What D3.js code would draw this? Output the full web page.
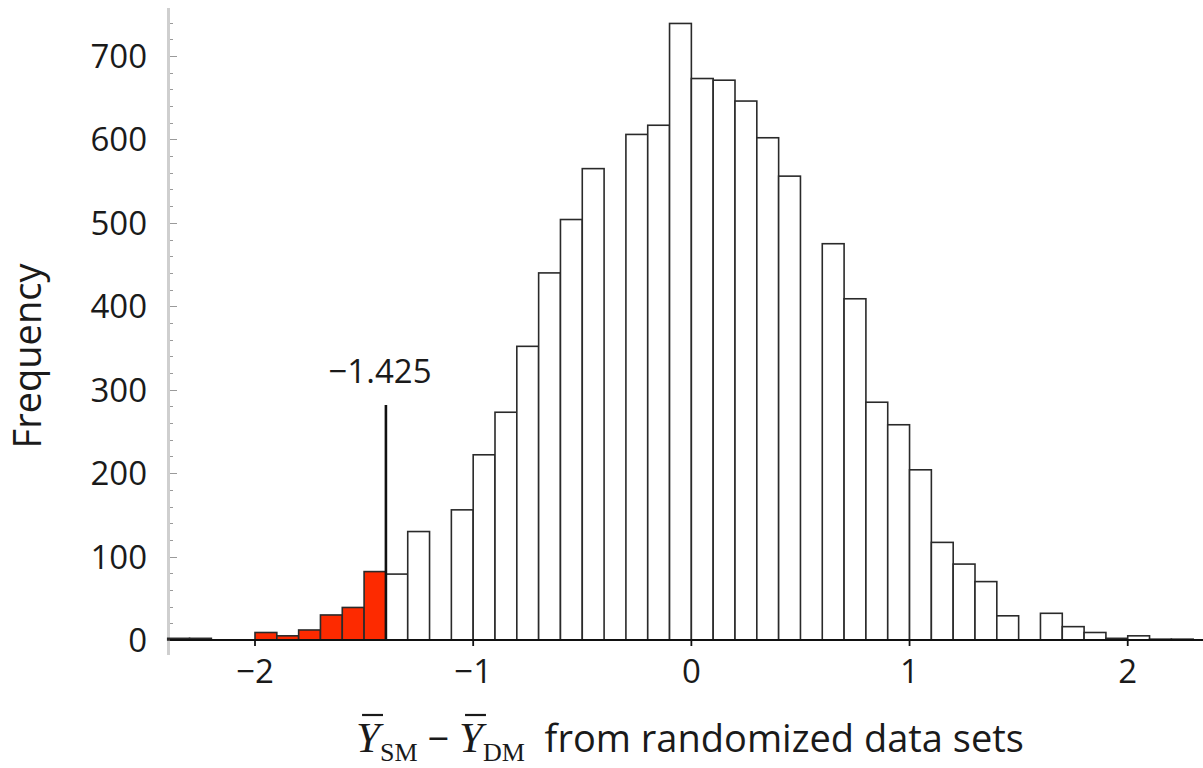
<!DOCTYPE html>
<html>
<head>
<meta charset="utf-8">
<script src="https://cdn.jsdelivr.net/npm/d3@7"></script>
<style>
  html, body { margin: 0; padding: 0; background: #fff; }
  svg { display: block; }
</style>
</head>
<body>
<svg id="chart" width="1203" height="768"></svg>
<script>
// ---- data ----
const binStarts = [-2.4,-2.3,-2.2,-2.1,-2.0,-1.9,-1.8,-1.7,-1.6,-1.5,-1.4,-1.3,-1.2,-1.1,-1.0,-0.9,-0.8,-0.7,-0.6,-0.5,-0.4,-0.3,-0.2,-0.1,0.0,0.1,0.2,0.3,0.4,0.5,0.6,0.7,0.8,0.9,1.0,1.1,1.2,1.3,1.4,1.5,1.6,1.7,1.8,1.9,2.0,2.1,2.2];
const frequencies = [2,2,0,0,9,5,12,30,39,82,79,130,0,156,222,273,352,440,504,565,0,606,617,739,673,671,646,602,556,0,475,409,285,258,204,117,91,70,29,0,32,16,9,2,5,1,1];
const binWidth = 0.1;
const observedValue = -1.425;
const observedLabel = "\u22121.425";
const xTickValues = [-2,-1,0,1,2];
const yTickValues = [0,100,200,300,400,500,600,700];
const yMinorStep = 20;
const yTitle = "Frequency";
const xTitleTail = "from randomized data sets";

// ---- layout ----
const svg = d3.select("#chart");
const FONT = "'Open Sans', 'Noto Sans', sans-serif";
const SERIF = "'Liberation Serif', 'DejaVu Serif', serif";

const x = d3.scaleLinear().domain([-2.385, 2.345]).range([171, 1203]);
const y = d3.scaleLinear().domain([0, 700]).range([640, 56]);

const bins = binStarts.map((s, i) => ({x0: s, x1: +(s + binWidth).toFixed(2), n: frequencies[i]}));
// the bin containing the observed value and all lower bins are highlighted
const cutEdge = bins.find(b => observedValue >= b.x0 && observedValue < b.x1).x1;

// y axis (light gray with minor ticks inside)
const yTop = y.invert(8);
svg.append("line")
  .attr("x1", 168.5).attr("x2", 168.5)
  .attr("y1", y(yTop)).attr("y2", 655)
  .attr("stroke", "#cfcfcf").attr("stroke-width", 3);
const minorVals = d3.range(0, yTop, yMinorStep);
svg.append("g").selectAll("line").data(minorVals).join("line")
  .attr("x1", 170).attr("x2", d => (d % 100 === 0 ? 177 : 173))
  .attr("y1", d => Math.round(y(d)) + 0.5).attr("y2", d => Math.round(y(d)) + 0.5)
  .attr("stroke", "#9a9a9a").attr("stroke-width", 1);
svg.append("g").selectAll("text").data(yTickValues).join("text")
  .attr("x", 147).attr("y", d => y(d) + 12)
  .attr("text-anchor", "end")
  .attr("font-family", FONT).attr("font-size", 33).attr("fill", "#1a1a1a")
  .text(d => d3.format("d")(d));

// bars
svg.append("g").selectAll("rect").data(bins.filter(b => b.n > 0)).join("rect")
  .attr("x", d => x(d.x0))
  .attr("width", d => x(d.x1) - x(d.x0))
  .attr("y", d => y(d.n))
  .attr("height", d => y(0) - y(d.n))
  .attr("fill", d => (d.x1 <= cutEdge + 1e-9 ? "#fd2a00" : "#ffffff"))
  .attr("stroke", "#2a2a2a").attr("stroke-width", 1.6);

// x axis
svg.append("line")
  .attr("x1", 170).attr("x2", 1203)
  .attr("y1", y(0)).attr("y2", y(0))
  .attr("stroke", "#111").attr("stroke-width", 1.8);
svg.append("g").selectAll("line").data(xTickValues).join("line")
  .attr("x1", d => x(d)).attr("x2", d => x(d))
  .attr("y1", y(0)).attr("y2", y(0) + 6)
  .attr("stroke", "#111").attr("stroke-width", 1.8);
svg.append("g").selectAll("text").data(xTickValues).join("text")
  .attr("x", d => x(d)).attr("y", 683)
  .attr("text-anchor", "middle")
  .attr("font-family", FONT).attr("font-size", 33).attr("fill", "#1a1a1a")
  .text(d => (d < 0 ? "\u2212" + Math.abs(d) : String(d)));

// observed-value marker
svg.append("line")
  .attr("x1", x(cutEdge)).attr("x2", x(cutEdge))
  .attr("y1", 405).attr("y2", y(0))
  .attr("stroke", "#111").attr("stroke-width", 2.6);
svg.append("text")
  .attr("x", 380).attr("y", 383)
  .attr("text-anchor", "middle")
  .attr("font-family", FONT).attr("font-size", 33).attr("fill", "#1a1a1a")
  .text(observedLabel);

// y title
svg.append("text")
  .attr("transform", "translate(41,356) rotate(-90)")
  .attr("text-anchor", "middle")
  .attr("font-family", FONT).attr("font-size", 38).attr("fill", "#1a1a1a")
  .text(yTitle);

// x title: Ybar_SM − Ybar_DM  from randomized data sets
const tg = svg.append("g");
const base = 752;
const pieces = [
  {t: "Y", f: SERIF, s: 43, it: true, bar: true, dy: 0},
  {t: "SM", f: SERIF, s: 26, dy: 9},
  {t: " \u2212 ", f: FONT, s: 38, dy: 0},
  {t: "Y", f: SERIF, s: 43, it: true, bar: true, dy: 0},
  {t: "DM", f: SERIF, s: 26, dy: 9},
  {t: "  " + xTitleTail, f: FONT, s: 38, dy: 0}
];
let cx = 0;
pieces.forEach(p => {
  const el = tg.append("text")
    .attr("x", cx).attr("y", base + p.dy)
    .attr("font-family", p.f).attr("font-size", p.s)
    .attr("font-style", p.it ? "italic" : "normal")
    .attr("fill", "#1a1a1a")
    .attr("xml:space", "preserve").style("white-space", "pre")
    .text(p.t);
  const w = el.node().getComputedTextLength();
  if (p.bar) {
    tg.append("line")
      .attr("x1", cx + 6).attr("x2", cx + w + 3)
      .attr("y1", base - 37).attr("y2", base - 37)
      .attr("stroke", "#1a1a1a").attr("stroke-width", 2.2);
  }
  cx += w;
});
tg.attr("transform", `translate(${690 - cx / 2},0)`);
</script>
</body>
</html>
